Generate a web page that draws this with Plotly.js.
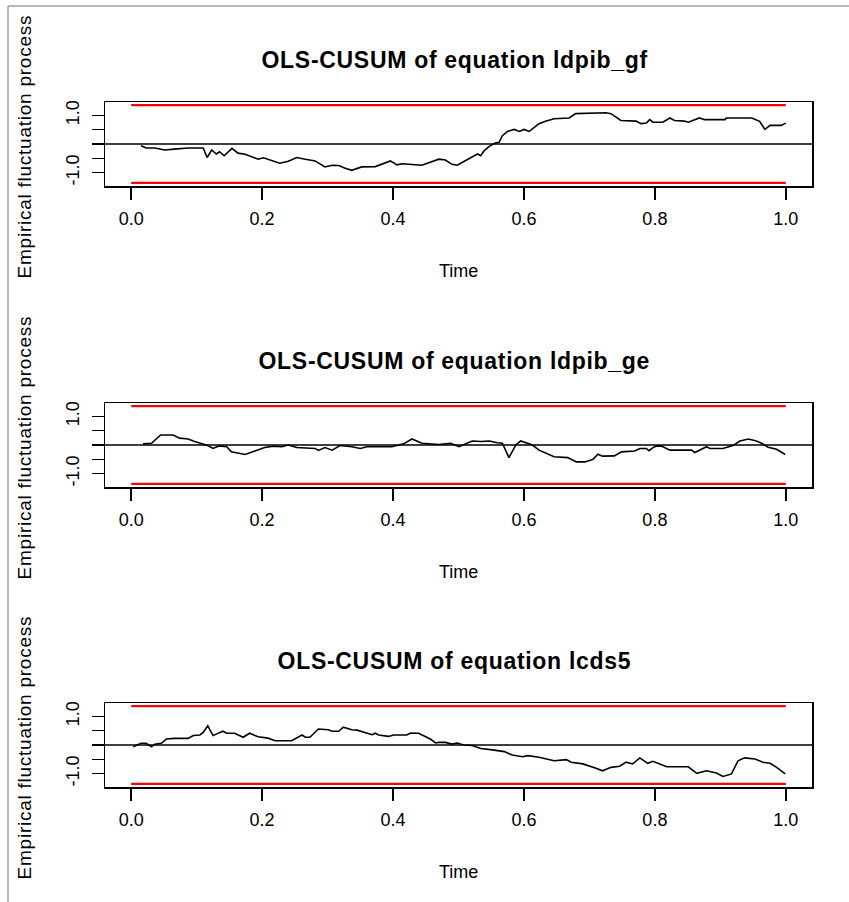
<!DOCTYPE html>
<html>
<head>
<meta charset="utf-8">
<script src="https://cdn.plot.ly/plotly-3.0.1.min.js"></script>
<style>
html, body { margin: 0; padding: 0; background: #ffffff; }
#chart { width: 849px; height: 902px; }
</style>
</head>
<body>
<div id="chart"></div>
<script>
// ---------- data ----------
const titles = ["OLS-CUSUM of equation ldpib_gf", "OLS-CUSUM of equation ldpib_ge", "OLS-CUSUM of equation lcds5"];
const xLabel = "Time";
const yLabel = "Empirical fluctuation process";

const time1 = [0.015,0.023,0.036,0.051,0.066,0.087,0.110,0.116,0.123,0.130,0.135,0.142,0.154,0.163,0.174,0.184,0.194,0.202,0.212,0.227,0.240,0.253,0.266,0.281,0.296,0.307,0.317,0.327,0.337,0.352,0.373,0.388,0.396,0.406,0.414,0.444,0.460,
  0.470,0.480,0.490,0.498,0.508,0.521,0.529,0.534,0.539,0.547,0.557,0.562,0.567,0.575,0.585,0.593,0.600,0.608,0.616,0.623,0.634,0.646,0.669,0.679,0.725,0.733,0.748,0.771,0.779,0.787,0.792,0.797,0.812,0.823,0.830,0.845,0.851,0.868,0.876,0.907,0.909,0.948,0.960,0.968,0.976,0.993,1.000];
const cusum1 = [-0.06,-0.14,-0.14,-0.21,-0.18,-0.14,-0.14,-0.47,-0.21,-0.35,-0.27,-0.41,-0.15,-0.32,-0.36,-0.45,-0.53,-0.48,-0.56,-0.67,-0.60,-0.47,-0.53,-0.59,-0.80,-0.74,-0.75,-0.85,-0.92,-0.80,-0.79,-0.67,-0.59,-0.73,-0.69,-0.74,-0.62,
  -0.53,-0.56,-0.71,-0.74,-0.62,-0.47,-0.35,-0.41,-0.24,-0.08,0.04,0.06,0.29,0.44,0.51,0.44,0.51,0.44,0.59,0.71,0.80,0.88,0.91,1.06,1.09,1.06,0.82,0.80,0.71,0.73,0.85,0.76,0.76,0.91,0.82,0.80,0.76,0.91,0.85,0.85,0.91,0.91,0.79,0.51,0.65,0.65,0.73];

const time2 = [0.018,0.031,0.045,0.064,0.074,0.087,0.097,0.107,0.117,0.125,0.133,0.138,0.146,0.153,0.174,0.189,0.204,0.217,0.230,0.240,0.253,0.281,0.286,0.296,0.307,0.319,0.337,0.350,0.360,0.378,0.398,0.416,0.429,0.444,0.457,
  0.470,0.488,0.501,0.513,0.521,0.534,0.547,0.559,0.567,0.577,0.588,0.595,0.606,0.613,0.623,0.634,0.646,0.667,0.680,0.693,0.705,0.713,0.720,0.738,0.749,0.769,0.777,0.787,0.791,0.797,0.802,0.810,0.823,0.856,0.861,0.879,0.884,0.904,0.919,0.930,0.943,0.955,0.963,0.973,0.986,0.999];
const cusum2 = [0.04,0.06,0.35,0.35,0.24,0.21,0.12,0.04,-0.02,-0.12,-0.04,-0.04,-0.06,-0.24,-0.33,-0.21,-0.09,-0.04,-0.06,0.00,-0.09,-0.12,-0.19,-0.09,-0.18,-0.02,-0.06,-0.12,-0.06,-0.06,-0.06,0.04,0.21,0.06,0.04,
  0.02,0.06,-0.06,0.06,0.14,0.12,0.14,0.08,0.06,-0.44,0.02,0.14,0.06,0.00,-0.18,-0.29,-0.41,-0.44,-0.59,-0.59,-0.51,-0.32,-0.39,-0.38,-0.24,-0.21,-0.12,-0.12,-0.20,-0.09,-0.04,-0.04,-0.18,-0.18,-0.26,-0.06,-0.12,-0.12,-0.02,0.14,0.21,0.14,0.06,-0.08,-0.15,-0.33];

const time3 = [0.003,0.008,0.015,0.023,0.031,0.036,0.046,0.054,0.066,0.087,0.095,0.105,0.110,0.117,0.125,0.130,0.140,0.146,0.158,0.171,0.181,0.189,0.194,0.209,0.220,0.245,0.253,0.261,0.266,0.273,0.286,0.301,0.307,0.317,0.324,0.337,0.345,0.358,0.368,0.373,0.378,0.393,0.401,0.421,0.427,0.439,0.450,0.457,0.465,
  0.470,0.480,0.490,0.498,0.508,0.521,0.534,0.552,0.570,0.582,0.598,0.606,0.623,0.646,0.665,0.672,0.690,0.710,0.720,0.733,0.746,0.756,0.766,0.777,0.789,0.797,0.807,0.818,0.851,0.864,0.879,0.894,0.904,0.917,0.927,0.937,0.953,0.965,0.976,0.986,0.999];
const cusum3 = [-0.06,-0.02,0.06,0.06,-0.06,0.03,0.06,0.21,0.23,0.23,0.33,0.35,0.44,0.67,0.33,0.38,0.48,0.41,0.41,0.27,0.41,0.33,0.29,0.24,0.15,0.15,0.24,0.35,0.27,0.27,0.56,0.53,0.48,0.48,0.62,0.53,0.52,0.42,0.36,0.41,0.35,0.30,0.35,0.35,0.42,0.41,0.27,0.21,0.07,
  0.09,0.09,0.03,0.07,0.00,-0.02,-0.12,-0.17,-0.23,-0.35,-0.41,-0.37,-0.43,-0.55,-0.51,-0.60,-0.66,-0.81,-0.90,-0.78,-0.74,-0.60,-0.66,-0.45,-0.64,-0.57,-0.66,-0.76,-0.76,-0.99,-0.90,-0.98,-1.10,-1.01,-0.55,-0.45,-0.49,-0.60,-0.64,-0.78,-1.01];

const boundaryTime = [0, 1];
const boundary = 1.358;            // 5% critical value of the OLS-CUSUM test
const xTickVals = [0, 0.2, 0.4, 0.6, 0.8, 1.0];
const xTickText = ["0.0", "0.2", "0.4", "0.6", "0.8", "1.0"];
const yTickVals = [-1, -0.5, 0, 0.5, 1];
const yTickText = ["-1.0", "", "", "", "1.0"];

const times = [time1, time2, time3];
const series = [cusum1, cusum2, cusum3];

// ---------- layout helpers (pixel positions -> paper fractions) ----------
const W = 849, H = 902;
const px = x => x / W;
const py = y => 1 - y / H;
const boxLeft = 105, boxRight = 812, boxH = 84;
const boxTops = [102, 403, 703];
const FONT = "Liberation Sans, Arial, sans-serif";

const data = [];
const layout = {
  width: W, height: H,
  margin: {l: 0, r: 0, t: 0, b: 0},
  paper_bgcolor: "#ffffff", plot_bgcolor: "#ffffff",
  showlegend: false,
  font: {family: FONT, color: "#000000", size: 18},
  annotations: [], shapes: []
};

const yr = boundary * 1.08;
for (let i = 0; i < 3; i++) {
  const n = i === 0 ? "" : String(i + 1);
  const xa = "x" + n, ya = "y" + n;
  data.push({x: times[i], y: series[i], xaxis: xa, yaxis: ya, type: "scatter", mode: "lines",
             line: {color: "#000000", width: 1.6}, hoverinfo: "skip"});
  data.push({x: boundaryTime, y: boundaryTime.map(() => boundary), xaxis: xa, yaxis: ya, type: "scatter", mode: "lines",
             line: {color: "#ff0000", width: 2.2}, hoverinfo: "skip"});
  data.push({x: boundaryTime, y: boundaryTime.map(() => -boundary), xaxis: xa, yaxis: ya, type: "scatter", mode: "lines",
             line: {color: "#ff0000", width: 2.2}, hoverinfo: "skip"});

  const top = boxTops[i], bot = top + boxH;
  layout["xaxis" + n] = {
    domain: [px(boxLeft), px(boxRight)], range: [-0.04, 1.04], anchor: ya,
    showline: true, mirror: true, linecolor: "#000000", linewidth: 1.5,
    ticks: "outside", ticklen: 12, tickwidth: 1.5, tickcolor: "#000000",
    tickvals: xTickVals, ticktext: xTickText, tickfont: {family: FONT, size: 18},
    ticklabelstandoff: 4,
    showgrid: false, zeroline: false, fixedrange: true
  };
  layout["yaxis" + n] = {
    domain: [py(bot), py(top)], range: [-yr, yr], anchor: xa,
    showline: true, mirror: true, linecolor: "#000000", linewidth: 1.5,
    ticks: "outside", ticklen: 12, tickwidth: 1.5, tickcolor: "#000000",
    tickvals: yTickVals, ticktext: yTickText, tickangle: -90, tickfont: {family: FONT, size: 18},
    ticklabelstandoff: 5,
    showgrid: false, zeroline: false, fixedrange: true
  };
  // zero reference line across the plot box
  layout.shapes.push({type: "line", xref: xa + " domain", yref: ya, x0: 0, x1: 1, y0: 0, y1: 0,
                      line: {color: "#000000", width: 1.5}, layer: "above"});
  // title
  layout.annotations.push({text: "<b>" + titles[i] + "</b>", xref: "paper", yref: "paper",
    x: px((boxLeft + boxRight) / 2 - 4), y: py(top - 42), xanchor: "center", yanchor: "middle",
    showarrow: false, font: {family: FONT, size: 23, color: "#000000"}});
  // x axis title
  layout.annotations.push({text: xLabel, xref: "paper", yref: "paper",
    x: px((boxLeft + boxRight) / 2), y: py(bot + 85), xanchor: "center", yanchor: "middle",
    showarrow: false, font: {family: FONT, size: 18, color: "#000000"}});
  // y axis title
  layout.annotations.push({text: yLabel, xref: "paper", yref: "paper", textangle: -90,
    x: px(24), y: py(top + boxH / 2 + 2.5), xanchor: "center", yanchor: "middle",
    showarrow: false, font: {family: FONT, size: 19, color: "#000000"}});
}

// window frame lines (top and left edges)
layout.shapes.push({type: "line", xref: "paper", yref: "paper", x0: px(8), x1: 1, y0: py(6), y1: py(6),
                    line: {color: "#a0a0a0", width: 1.5}});
layout.shapes.push({type: "line", xref: "paper", yref: "paper", x0: px(8), x1: px(8), y0: py(6), y1: 0,
                    line: {color: "#a0a0a0", width: 1.5}});

Plotly.newPlot("chart", data, layout, {staticPlot: true, displayModeBar: false}).then(function (gd) {
  // the original R device draws text with slightly wider letter spacing
  gd.querySelectorAll(".annotation").forEach(function (g) {
    const idx = Number(g.getAttribute("data-index"));
    const t = g.querySelector("text.annotation-text");
    if (!t) return;
    const kind = idx % 3;
    if (kind === 0) t.style.letterSpacing = "0.7px";
    else if (kind === 2) t.style.letterSpacing = "0.75px";
  });
});
</script>
</body>
</html>
